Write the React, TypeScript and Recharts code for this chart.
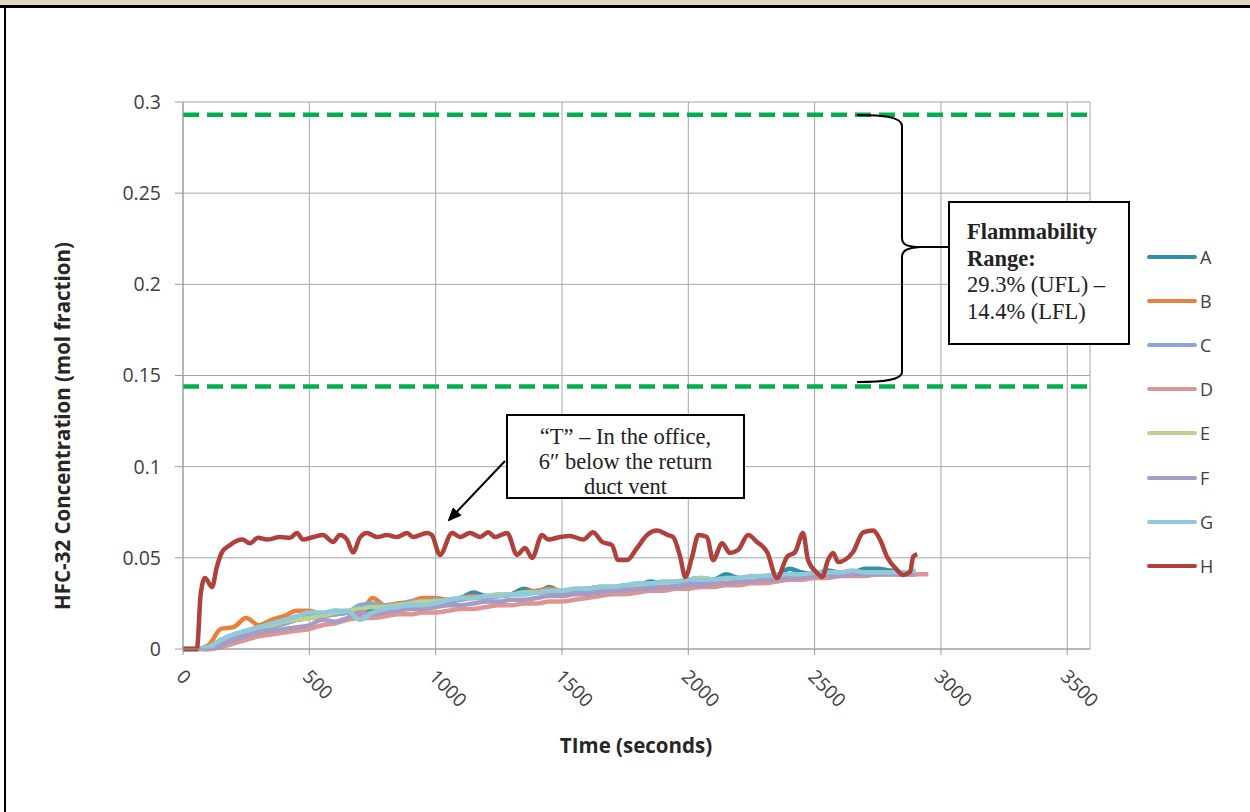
import { LineChart, Line, XAxis, YAxis, CartesianGrid, ReferenceLine, Legend } from 'recharts';

// sample times (s) shared by sensors A-G
const timeSec = [
  0, 50, 100, 150, 200, 250, 300, 350, 400, 450,
  500, 550, 600, 650, 700, 750, 800, 850, 900, 950,
  1000, 1050, 1100, 1150, 1200, 1250, 1300, 1350, 1400, 1450,
  1500, 1550, 1600, 1650, 1700, 1750, 1800, 1850, 1900, 1950,
  2000, 2050, 2100, 2150, 2200, 2250, 2300, 2350, 2400, 2450,
  2500, 2550, 2600, 2650, 2700, 2750, 2800, 2850, 2900, 2950,
];

const concA = [
  0, 0, 0.001, 0.004, 0.007, 0.009, 0.011, 0.013, 0.014, 0.016,
  0.017, 0.018, 0.019, 0.020, 0.021, 0.022, 0.023, 0.024, 0.025, 0.026,
  0.027, 0.027, 0.028, 0.031, 0.029, 0.029, 0.030, 0.033, 0.031, 0.034,
  0.031, 0.032, 0.033, 0.034, 0.034, 0.035, 0.035, 0.037, 0.036, 0.036,
  0.038, 0.039, 0.038, 0.041, 0.039, 0.039, 0.040, 0.040, 0.044, 0.042,
  0.041, 0.043, 0.042, 0.042, 0.044, 0.044, 0.043, 0.042, 0.042, null,
];
const concB = [
  0, 0, 0.002, 0.011, 0.012, 0.017, 0.013, 0.016, 0.018, 0.021,
  0.021, 0.019, 0.021, 0.020, 0.019, 0.028, 0.024, 0.025, 0.026, 0.028,
  0.028, 0.027, 0.028, 0.029, 0.028, 0.030, 0.030, 0.031, 0.032, 0.033,
  0.032, 0.032, 0.033, 0.034, 0.034, 0.034, 0.035, 0.036, 0.036, 0.037,
  0.037, 0.037, 0.038, 0.038, 0.038, 0.039, 0.039, 0.039, 0.040, 0.040,
  0.041, 0.041, 0.041, 0.041, 0.042, 0.042, 0.042, 0.041, 0.041, null,
];
const concC = [
  0, 0, 0, 0.003, 0.006, 0.008, 0.010, 0.012, 0.014, 0.016,
  0.018, 0.018, 0.019, 0.020, 0.024, 0.025, 0.024, 0.024, 0.026, 0.026,
  0.027, 0.026, 0.027, 0.028, 0.028, 0.029, 0.030, 0.030, 0.031, 0.031,
  0.031, 0.032, 0.032, 0.033, 0.033, 0.034, 0.034, 0.035, 0.035, 0.036,
  0.036, 0.037, 0.037, 0.037, 0.038, 0.038, 0.038, 0.039, 0.039, 0.040,
  0.040, 0.040, 0.041, 0.041, 0.041, 0.041, 0.041, 0.041, 0.041, null,
];
const concD = [
  0, 0, 0, 0.001, 0.003, 0.005, 0.007, 0.008, 0.009, 0.010,
  0.011, 0.013, 0.014, 0.016, 0.017, 0.017, 0.018, 0.019, 0.019, 0.020,
  0.020, 0.021, 0.022, 0.022, 0.023, 0.024, 0.024, 0.025, 0.025, 0.026,
  0.026, 0.027, 0.028, 0.029, 0.030, 0.030, 0.031, 0.032, 0.032, 0.033,
  0.033, 0.034, 0.034, 0.035, 0.035, 0.036, 0.036, 0.037, 0.038, 0.038,
  0.039, 0.039, 0.040, 0.040, 0.040, 0.041, 0.041, 0.041, 0.041, 0.041,
];
const concE = [
  0, 0, 0.001, 0.005, 0.008, 0.010, 0.012, 0.013, 0.015, 0.016,
  0.017, 0.018, 0.020, 0.021, 0.022, 0.023, 0.023, 0.024, 0.025, 0.026,
  0.026, 0.027, 0.028, 0.028, 0.029, 0.030, 0.030, 0.031, 0.031, 0.032,
  0.032, 0.033, 0.033, 0.034, 0.034, 0.035, 0.035, 0.036, 0.036, 0.037,
  0.038, 0.039, 0.038, 0.038, 0.039, 0.039, 0.040, 0.040, 0.041, 0.041,
  0.041, 0.042, 0.042, 0.042, 0.042, 0.042, 0.042, 0.042, 0.042, null,
];
const concF = [
  0, 0, 0, 0.002, 0.005, 0.007, 0.009, 0.010, 0.011, 0.012,
  0.013, 0.016, 0.015, 0.017, 0.020, 0.019, 0.020, 0.021, 0.022, 0.022,
  0.023, 0.024, 0.024, 0.025, 0.026, 0.026, 0.027, 0.027, 0.028, 0.029,
  0.029, 0.030, 0.030, 0.031, 0.032, 0.032, 0.033, 0.033, 0.034, 0.034,
  0.035, 0.035, 0.036, 0.036, 0.037, 0.037, 0.038, 0.038, 0.039, 0.039,
  0.040, 0.040, 0.040, 0.041, 0.041, 0.041, 0.041, 0.041, 0.041, null,
];
const concG = [
  0, 0, 0.001, 0.005, 0.008, 0.010, 0.012, 0.014, 0.016, 0.018,
  0.020, 0.020, 0.021, 0.021, 0.016, 0.020, 0.022, 0.023, 0.024, 0.024,
  0.025, 0.027, 0.028, 0.028, 0.029, 0.029, 0.030, 0.030, 0.031, 0.032,
  0.032, 0.033, 0.033, 0.034, 0.034, 0.035, 0.036, 0.036, 0.037, 0.037,
  0.038, 0.038, 0.038, 0.039, 0.039, 0.040, 0.040, 0.041, 0.041, 0.041,
  0.042, 0.042, 0.042, 0.043, 0.042, 0.042, 0.042, 0.042, 0.043, null,
];

// sensor H ("T", office, below return duct) has its own time base
const hTime = [
  0, 55, 70, 87, 115, 134, 154, 186, 234, 265,
  297, 332, 384, 424, 451, 475, 515, 554, 594, 621,
  649, 673, 700, 728, 768, 807, 847, 887, 911, 966,
  985, 1017, 1065, 1097, 1136, 1176, 1208, 1235, 1283, 1322,
  1354, 1382, 1421, 1445, 1492, 1532, 1584, 1623, 1659, 1698,
  1722, 1758, 1797, 1837, 1876, 1920, 1940, 1968, 1988, 2015,
  2040, 2074, 2098, 2134, 2165, 2197, 2237, 2272, 2312, 2351,
  2391, 2423, 2454, 2474, 2510, 2530, 2553, 2573, 2593, 2652,
  2692, 2732, 2759, 2787, 2827, 2850, 2878, 2890, 2906,
];
const hConc = [
  0, 0, 0.030, 0.039, 0.034, 0.045, 0.053, 0.057, 0.060, 0.058,
  0.061, 0.060, 0.0614, 0.061, 0.0636, 0.060, 0.0614, 0.0625, 0.0587, 0.0625,
  0.060, 0.053, 0.061, 0.0636, 0.0614, 0.0625, 0.0614, 0.0636, 0.0614, 0.0636,
  0.0625, 0.0516, 0.0636, 0.0614, 0.0636, 0.0614, 0.064, 0.0614, 0.0636, 0.0516,
  0.0554, 0.050, 0.0625, 0.060, 0.0614, 0.062, 0.060, 0.064, 0.0587, 0.057,
  0.0488, 0.0488, 0.0554, 0.0625, 0.065, 0.0625, 0.0614, 0.0505, 0.0395, 0.0505,
  0.0625, 0.0614, 0.0488, 0.058, 0.0527, 0.0543, 0.0625, 0.0587, 0.0532, 0.039,
  0.0505, 0.0532, 0.0636, 0.0488, 0.0417, 0.0395, 0.0488, 0.0527, 0.0477, 0.0532,
  0.064, 0.065, 0.060, 0.0505, 0.0433, 0.0406, 0.0422, 0.0505, 0.052,
];

const seriesNames = ['A', 'B', 'C', 'D', 'E', 'F', 'G', 'H'];
const seriesColors = ['#3190a8', '#e8823a', '#8aa6d6', '#d99694', '#b9d292', '#a99ac4', '#8ec9dc', '#b0403c'];

const xTicks = [0, 500, 1000, 1500, 2000, 2500, 3000, 3500];
const yTicks = [0, 0.05, 0.1, 0.15, 0.2, 0.25, 0.3];
const uflLimit = 0.293;
const lflLimit = 0.144;

const gasRows = timeSec.map((t, i) => ({
  t,
  A: concA[i],
  B: concB[i],
  C: concC[i],
  D: concD[i],
  E: concE[i],
  F: concF[i],
  G: concG[i],
}));
const hRows = hTime.map((t, i) => ({ t, H: hConc[i] }));

const sans = 'Open Sans, sans-serif';
const serif = 'Liberation Serif, serif';

const AngledTick = ({ x, y, payload }: any) => (
  <g transform={`translate(${x - 3},${y})`}>
    <text x={0} y={0} dy="0.35em" transform="rotate(45)" textAnchor="start" fill="#404040" fontSize={19} fontFamily={sans}>
      {payload.value}
    </text>
  </g>
);

const XTitle = () => (
  <text x={636} y={745} textAnchor="middle" dominantBaseline="central" fontFamily={sans} fontWeight={700} fontSize={20.5} fill="#262626">
    TIme (seconds)
  </text>
);

const YTitle = () => (
  <text transform="translate(62,426) rotate(-90)" textAnchor="middle" dominantBaseline="central" fontFamily={sans} fontWeight={700} fontSize={20.5} fill="#262626">
    HFC-32 Concentration (mol fraction)
  </text>
);

const LegendBox = () => (
  <div style={{ fontFamily: sans, fontSize: 18, color: '#404040' }}>
    {seriesNames.map((n, i) => (
      <div key={n} style={{ height: 44.1, display: 'flex', alignItems: 'center' }}>
        <span style={{ width: 50, height: 4, borderRadius: 2, background: seriesColors[i] }} />
        <span style={{ marginLeft: 3 }}>{n}</span>
      </div>
    ))}
  </div>
);

const boxStyle = {
  position: 'absolute' as const,
  background: '#fff',
  border: '2px solid #000',
  boxSizing: 'border-box' as const,
  fontFamily: serif,
  fontSize: 22.5,
  color: '#222',
  whiteSpace: 'nowrap' as const,
};

export default function App() {
  return (
    <div style={{ position: 'absolute', left: 0, top: 0, width: 1250, height: 812, background: '#fff', overflow: 'hidden' }}>
      {/* frame */}
      <div style={{ position: 'absolute', left: 0, top: 0, width: 1250, height: 5, background: '#ded7bf' }} />
      <div style={{ position: 'absolute', left: 0, top: 5, width: 1250, height: 3, background: '#000' }} />
      <div style={{ position: 'absolute', left: 4, top: 5, width: 2, height: 807, background: '#000' }} />

      <div style={{ position: 'absolute', left: 0, top: 0 }}>
        <LineChart width={1250} height={812} data={gasRows} margin={{ top: 102, right: 160, bottom: 0, left: 0 }}>
          <CartesianGrid stroke="#a6a6a6" strokeWidth={1} />
          <XAxis
            dataKey="t"
            type="number"
            domain={[0, 3590]}
            ticks={xTicks}
            allowDataOverflow
            height={163}
            tickSize={6}
            tickMargin={18}
            tick={<AngledTick />}
            stroke="#9a9a9a"
            label={<XTitle />}
          />
          <YAxis
            type="number"
            domain={[0, 0.3]}
            ticks={yTicks}
            width={183}
            tickSize={8}
            tickMargin={14}
            stroke="#9a9a9a"
            tick={{ fill: '#404040', fontSize: 19.5, fontFamily: sans }}
            label={<YTitle />}
          />
          <ReferenceLine y={uflLimit} stroke="#00b050" strokeWidth={4.5} strokeDasharray="16 8" />
          <ReferenceLine y={lflLimit} stroke="#00b050" strokeWidth={4.5} strokeDasharray="16 8" />
          {seriesNames.slice(0, 7).map((n, i) => (
            <Line
              key={n}
              dataKey={n}
              name={n}
              type="monotone"
              stroke={seriesColors[i]}
              strokeWidth={4.5}
              dot={false}
              isAnimationActive={false}
            />
          ))}
          <Line
            data={hRows}
            dataKey="H"
            name="H"
            type="monotone"
            stroke={seriesColors[7]}
            strokeWidth={4.5}
            dot={false}
            isAnimationActive={false}
          />
          <Legend
            layout="vertical"
            align="center"
            verticalAlign="middle"
            wrapperStyle={{ left: 1147, top: 235, width: 80 }}
            content={() => <LegendBox />}
          />
        </LineChart>
      </div>

      {/* annotations */}
      <svg width={1250} height={812} style={{ position: 'absolute', left: 0, top: 0, pointerEvents: 'none' }}>
        <defs>
          <marker id="arrowHead" markerWidth="14" markerHeight="12" refX="12" refY="6" orient="auto" markerUnits="userSpaceOnUse">
            <path d="M0,0 L14,6 L0,12 z" fill="#000" />
          </marker>
        </defs>
        <path
          d="M857 115 C884 115 902 117 902 126 L902 238 C902 245 908 247 920 247 L948 247 M920 247 C908 248 902 250 902 257 L902 372 C902 380 884 382 857 382"
          fill="none"
          stroke="#000"
          strokeWidth={2}
        />
        <line x1={505} y1={461} x2={449} y2={520} stroke="#000" strokeWidth={2} markerEnd="url(#arrowHead)" />
      </svg>

      <div style={{ ...boxStyle, left: 948, top: 201, width: 182, height: 144, padding: '16px 0 0 17px', lineHeight: '26.5px' }}>
        <div style={{ fontWeight: 700 }}>Flammability</div>
        <div style={{ fontWeight: 700 }}>Range:</div>
        <div>29.3% (UFL) –</div>
        <div>14.4% (LFL)</div>
      </div>

      <div style={{ ...boxStyle, left: 506, top: 414, width: 239, height: 85, paddingTop: 8, lineHeight: '25px', textAlign: 'center', overflow: 'hidden' }}>
        <div>“T” – In the office,</div>
        <div>6″ below the return</div>
        <div>duct vent</div>
      </div>
    </div>
  );
}
